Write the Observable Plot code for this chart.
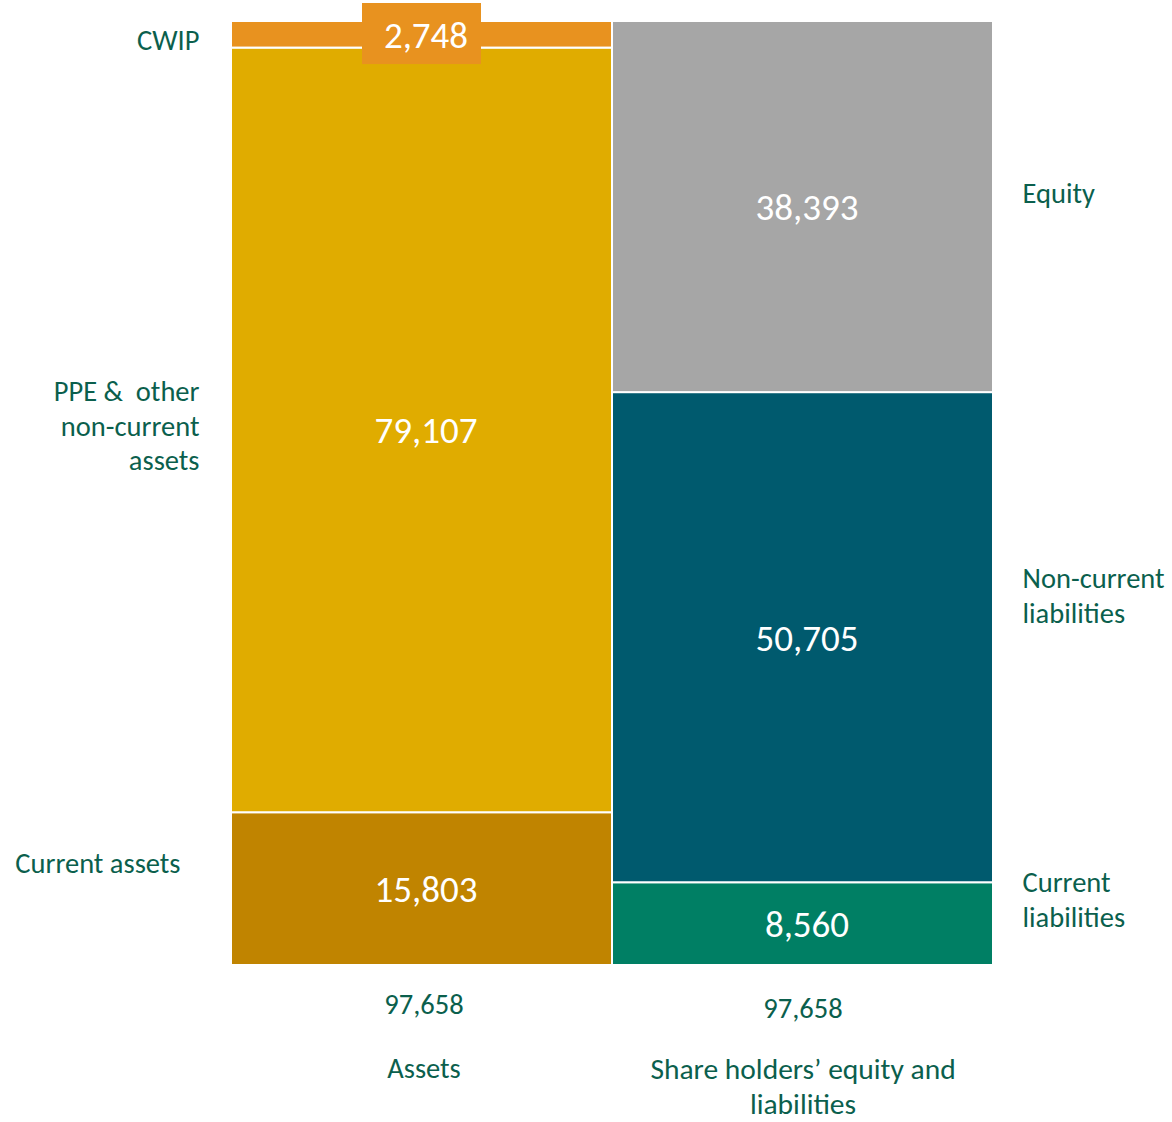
<!DOCTYPE html>
<html>
<head>
<meta charset="utf-8">
<script src="https://cdn.jsdelivr.net/npm/d3@7"></script>
<script src="https://cdn.jsdelivr.net/npm/@observablehq/plot@0.6"></script>
<style>
  html, body { margin: 0; padding: 0; background: #fff; }
  #chart svg { display: block; }
</style>
</head>
<body>
<div id="chart"></div>
<script>
const sides = ["Assets", "Share holders’ equity and liabilities"];
const assetItems = ["Current assets", "PPE &  other\nnon-current\nassets", "CWIP"];
const assetValues = [15803, 79107, 2748];
const liabItems = ["Current\nliabilities", "Non-current\nliabilities", "Equity"];
const liabValues = [8560, 50705, 38393];
const assetColors = ["#C08400", "#E0AC00", "#E8921F"];
const liabColors = ["#007F64", "#005A6E", "#A6A6A6"];

const labelColor = "#0b5f4d";
const font = "Carlito, Calibri, Lato, sans-serif";

function build(side, items, values, colors) {
  let acc = 0;
  return items.map((item, i) => {
    const y1 = acc; acc += values[i];
    return {side, item, value: values[i], y1, y2: acc, mid: (y1 + acc) / 2, color: colors[i], idx: i};
  });
}
const rows = [
  ...build(sides[0], assetItems, assetValues, assetColors),
  ...build(sides[1], liabItems, liabValues, liabColors)
];
const totals = [
  {side: sides[0], total: d3.sum(assetValues)},
  {side: sides[1], total: d3.sum(liabValues)}
];
const fmt = d3.format(",");
const total = d3.max(totals, d => d.total);

const A = rows.filter(d => d.side === sides[0]);
const L = rows.filter(d => d.side === sides[1]);

const LS = 28.5;
const leftLabel = (d, dx, dy) => Plot.text([d], {
  y: "mid", text: "item", frameAnchor: "left", textAnchor: "end", lineAnchor: "middle",
  dx, dy, fill: labelColor, fontSize: LS, lineHeight: 1.22
});
const rightLabel = (d, dy) => Plot.text([d], {
  y: "mid", text: "item", frameAnchor: "right", textAnchor: "start", lineAnchor: "middle",
  dx: 29, dy, fill: labelColor, fontSize: LS, lineHeight: 1.22
});

const chart = Plot.plot({
  width: 1172,
  height: 1122,
  marginLeft: 230,
  marginRight: 179,
  marginTop: 21,
  marginBottom: 157,
  style: {fontFamily: font, background: "#fff"},
  x: {domain: sides, padding: 0, axis: null},
  y: {domain: [0, total], axis: null},
  color: {domain: rows.map(d => d.color), range: rows.map(d => d.color)},
  marks: [
    Plot.barY(rows, {x: "side", y1: "y1", y2: "y2", fill: "color", stroke: "white", strokeWidth: 2}),
    Plot.barY(A.filter(d => d.idx === 2), {
      x: "side", y1: "y1", y2: "y2", fill: "color",
      insetLeft: 131, insetRight: 131, insetTop: -18, insetBottom: -16.5
    }),
    Plot.text(rows, {
      x: "side", y: "mid", text: d => fmt(d.value), fill: "white",
      fontSize: 37, dx: 4, dy: 1
    }),
    leftLabel(A[2], -31, 4),
    leftLabel(A[1], -31, -6),
    leftLabel(A[0], -50, -27),
    rightLabel(L[2], -15),
    rightLabel(L[1], -43),
    rightLabel(L[0], -26),
    Plot.text(totals.filter(d => d.side === sides[0]), {
      x: "side", text: d => fmt(d.total), frameAnchor: "bottom", lineAnchor: "middle", dy: 39, dx: 2,
      fill: labelColor, fontSize: LS
    }),
    Plot.text(totals.filter(d => d.side === sides[1]), {
      x: "side", text: d => fmt(d.total), frameAnchor: "bottom", lineAnchor: "middle", dy: 43,
      fill: labelColor, fontSize: LS
    }),
    Plot.text(totals.filter(d => d.side === sides[0]), {
      x: "side", text: "side", frameAnchor: "bottom", lineAnchor: "middle", dy: 103, dx: 2,
      fill: labelColor, fontSize: LS
    }),
    Plot.text(totals.filter(d => d.side === sides[1]), {
      x: "side", text: d => "Share holders’ equity and\nliabilities", frameAnchor: "bottom", lineAnchor: "middle", dy: 120,
      fill: labelColor, fontSize: LS + 1, lineHeight: 1.18
    })
  ]
});
document.getElementById("chart").appendChild(chart);
</script>
</body>
</html>
